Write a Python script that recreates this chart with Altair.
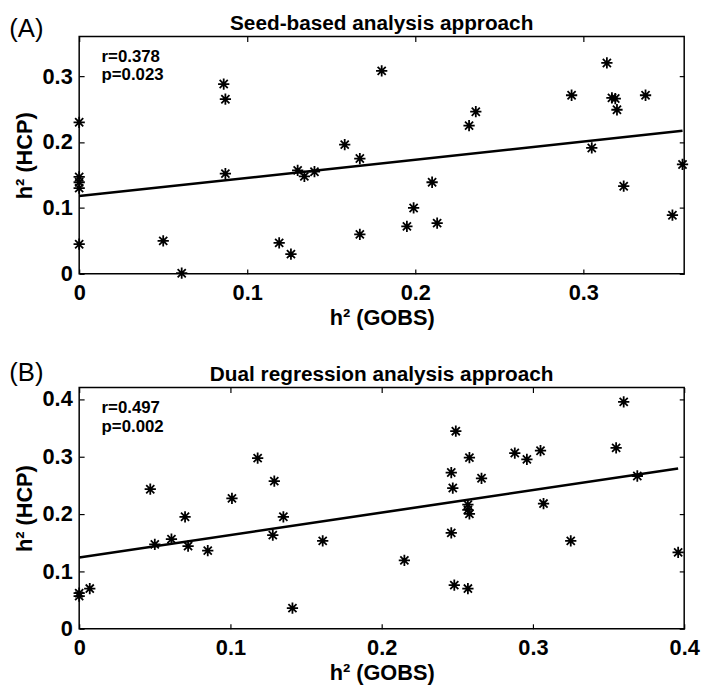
import altair as alt
import pandas as pd

# ---------------- data ----------------
a_gobs = [0, 0, 0, 0, 0, 0.050, 0.061, 0.086, 0.087, 0.087, 0.119, 0.126, 0.130, 0.134,
          0.140, 0.158, 0.167, 0.167, 0.180, 0.195, 0.199, 0.210, 0.213, 0.232, 0.236,
          0.293, 0.305, 0.314, 0.317, 0.319, 0.320, 0.324, 0.337, 0.353, 0.359]
a_hcp = [0.230, 0.147, 0.139, 0.130, 0.045, 0.050, 0.001, 0.288, 0.265, 0.152, 0.047, 0.030,
         0.157, 0.148, 0.155, 0.196, 0.175, 0.060, 0.308, 0.072, 0.100, 0.139, 0.077, 0.225,
         0.246, 0.271, 0.191, 0.320, 0.267, 0.266, 0.249, 0.133, 0.271, 0.089, 0.166]
a_fit_x = [0, 0.359]
a_fit_y = [0.118, 0.217]

b_gobs = [0, 0, 0.007, 0.047, 0.050, 0.061, 0.070, 0.072, 0.085, 0.101, 0.118, 0.129, 0.128,
          0.135, 0.141, 0.161, 0.215, 0.249, 0.246, 0.247, 0.246, 0.248, 0.257, 0.258, 0.257,
          0.257, 0.258, 0.266, 0.288, 0.296, 0.305, 0.307, 0.325, 0.355, 0.360, 0.369, 0.396]
b_hcp = [0.062, 0.057, 0.070, 0.243, 0.147, 0.156, 0.195, 0.144, 0.136, 0.227, 0.297, 0.257,
         0.163, 0.195, 0.036, 0.153, 0.119, 0.344, 0.272, 0.245, 0.167, 0.076, 0.070, 0.298,
         0.216, 0.207, 0.200, 0.262, 0.306, 0.295, 0.310, 0.218, 0.153, 0.315, 0.395, 0.266, 0.133]
b_fit_x = [0, 0.396]
b_fit_y = [0.124, 0.279]

a_stats = ["r=0.378", "p=0.023"]
a_stats_x = [0.0133, 0.0133]
a_stats_y = [0.321, 0.294]
b_stats = ["r=0.497", "p=0.002"]
b_stats_x = [0.0148, 0.0148]
b_stats_y = [0.376, 0.343]

a_title = "Seed-based analysis approach"
b_title = "Dual regression analysis approach"
a_label = "(A)"
b_label = "(B)"
x_title = "h² (GOBS)"
y_title = "h² (HCP)"

a_xdom, a_ydom = [0, 0.36], [0, 0.36]
b_xdom, b_ydom = [0, 0.4], [0, 0.42]
a_xticks, a_yticks = [0, 0.1, 0.2, 0.3], [0, 0.1, 0.2, 0.3]
b_xticks, b_yticks = [0, 0.1, 0.2, 0.3, 0.4], [0, 0.1, 0.2, 0.3, 0.4]

W = 612
FONT = "Liberation Sans"
AST = "M-1,0L1,0M0,-1L0,1M-0.72,-0.72L0.72,0.72M-0.72,0.72L0.72,-0.72"
TICK = 5


def panel(gx, gy, fx, fy, st, stx, sty, title, label, label_y, xdom, ydom, xt, yt, h):
    xs = alt.Scale(domain=xdom, nice=False, zero=False)
    ys = alt.Scale(domain=ydom, nice=False, zero=False)
    common = dict(offset=-TICK, tickSize=TICK, domain=False, labelFlush=False,
                  format="~g", grid=False)
    pts_df = pd.DataFrame({"x": gx, "y": gy})
    fit_df = pd.DataFrame({"x": fx, "y": fy})
    st_df = pd.DataFrame({"x": stx, "y": sty, "t": st})

    pts = alt.Chart(pts_df).mark_point(
        shape=AST, size=130, filled=False, stroke="black", strokeWidth=1.8, opacity=1
    ).encode(
        x=alt.X("x:Q", scale=xs, axis=alt.Axis(values=xt, orient="bottom", title=x_title,
                                               labelPadding=9, titlePadding=4, **common)),
        y=alt.Y("y:Q", scale=ys, axis=alt.Axis(values=yt, orient="left", title=y_title,
                                               labelPadding=7, titlePadding=6, **common)),
    )
    fit = alt.Chart(fit_df).mark_line(color="black", strokeWidth=2.6).encode(
        x=alt.X("x:Q", scale=xs, axis=alt.Axis(values=xt, orient="top", labels=False,
                                               title=None, **common)),
        y=alt.Y("y:Q", scale=ys, axis=alt.Axis(values=yt, orient="right", labels=False,
                                               title=None, **common)),
    )
    stats = alt.Chart(st_df).mark_text(
        align="left", baseline="alphabetic", font=FONT, fontSize=17, fontWeight="bold",
        color="black"
    ).encode(
        x=alt.X("x:Q", scale=xs, axis=None),
        y=alt.Y("y:Q", scale=ys, axis=None),
        text="t:N",
    )
    ttl = alt.Chart(pd.DataFrame({"t": [title]})).mark_text(
        align="center", baseline="alphabetic", font=FONT, fontSize=21, fontWeight="bold",
        color="black"
    ).encode(x=alt.value(W / 2), y=alt.value(-7), text="t:N")
    lab = alt.Chart(pd.DataFrame({"t": [label]})).mark_text(
        align="left", baseline="middle", font=FONT, fontSize=26, fontWeight="normal",
        color="black"
    ).encode(x=alt.value(-70.7), y=alt.value(label_y), text="t:N")

    return alt.layer(pts, fit, stats, ttl, lab).resolve_axis(
        x="independent", y="independent"
    ).properties(width=W, height=h)


top = panel(a_gobs, a_hcp, a_fit_x, a_fit_y, a_stats, a_stats_x, a_stats_y,
            a_title, a_label, -8, a_xdom, a_ydom, a_xticks, a_yticks, 240)
bot = panel(b_gobs, b_hcp, b_fit_x, b_fit_y, b_stats, b_stats_x, b_stats_y,
            b_title, b_label, -15, b_xdom, b_ydom, b_xticks, b_yticks, 244)

chart = alt.vconcat(top, bot, spacing=30).properties(
    padding={"left": 0, "top": 0, "right": 0, "bottom": 0}
).configure_view(stroke="black", strokeWidth=1.5).configure_axis(
    labelFont=FONT, labelFontSize=22, labelFontWeight="bold", labelColor="black",
    titleFont=FONT, titleFontSize=22, titleFontWeight="bold", titleColor="black",
    tickColor="black", tickWidth=1.2
)

chart.save("out.html", embed_options={"renderer": "svg", "actions": False})
